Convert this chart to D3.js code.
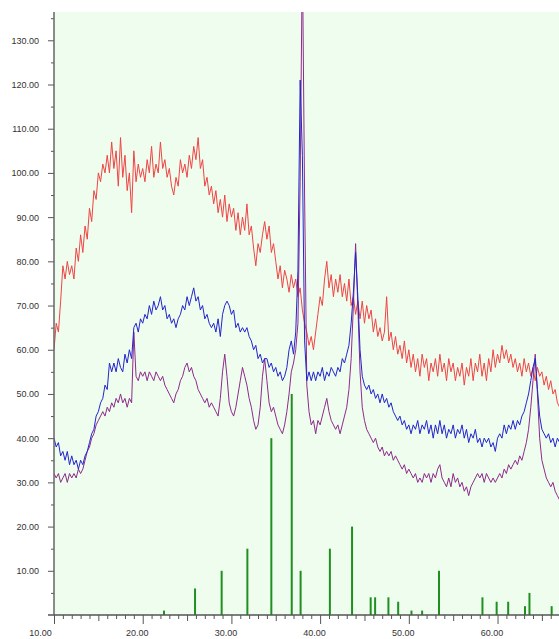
<!DOCTYPE html>
<meta charset="utf-8">
<style>
body { margin: 0; background: #fff; }
.axis text { font-family: "Liberation Sans", Arial, sans-serif; font-size: 9px; fill: #333; }
.axis line { stroke: #555; }
.axis path { display: none; }
</style>
<svg id="chart" width="559" height="639"></svg>
<script src="https://d3js.org/d3.v7.min.js"></script>
<script>

// diffraction pattern, sampled every 0.25 deg starting at 10 deg
var startAngle = 10, angleStep = 0.25;

var redCounts = [
  60,66,64,71,79,76,80,77,79,76, 83,80,86,82,88,85,92,89,96,94,
  100,98,102,100,104,100,107,101,105,97, 108,99,104,96,100,91,105,98,102,99,
  101,98,103,100,106,99,102,100,107,101, 103,99,101,97,95,99,97,103,100,102,
  99,104,101,106,103,108,101,103,97,99, 95,97,93,96,91,94,90,95,89,93,
  90,92,87,91,86,90,87,93,86,88, 83,79,84,82,86,89,85,88,82,84,
  80,76,79,74,78,76,73,77,74,76, 72,74,69,66,64,61,63,60,64,68,
  72,70,76,80,74,77,72,76,73,77, 72,75,71,76,70,72,68,71,67,71,
  66,70,67,69,64,67,63,65,62,64, 72,62,64,60,63,59,61,58,62,57,
  60,56,59,55,58,54,59,56,58,53, 57,55,58,54,59,55,57,53,58,55,
  57,53,56,54,57,52,56,54,58,53, 57,55,59,54,57,53,58,55,60,56,
  59,57,61,58,60,57,59,56,58,55, 57,54,58,55,57,54,56,53,56,54,
  55,52,54,51,53,50,51,48,47
];

var blueCounts = [
  40,38,39,36,37,35,37,34,36,34, 35,33,35,34,36,37,39,41,42,45,
  46,48,49,52,51,57,55,57,55,58, 56,55,59,57,60,58,65,66,64,67,
  66,68,67,70,68,71,69,70,72,69, 70,67,68,66,67,65,67,68,70,69,
  72,70,72,74,71,72,69,70,67,68, 66,65,66,64,67,63,68,70,71,70,
  68,69,65,66,64,65,64,65,63,62, 60,61,58,59,57,58,58,56,57,55,
  56,54,55,53,54,56,60,62,59,64, 78,121,104,62,53,55,53,55,53,55,
  54,56,53,55,54,56,55,54,56,55, 58,57,59,61,66,73,82,72,60,54,
  52,51,52,50,51,49,50,48,50,48, 49,47,48,46,45,44,45,43,44,42,
  43,41,43,42,44,41,43,42,44,41, 43,40,43,41,44,41,43,40,42,41,
  43,40,42,41,43,40,42,39,41,40, 42,39,40,38,40,39,40,38,39,37,
  40,41,40,43,41,43,42,44,42,44, 43,45,46,48,50,53,56,58,51,45,
  42,41,40,41,39,40,38,40,39
];

var purpleCounts = [
  32,31,32,30,31,32,30,32,31,32, 31,33,32,33,35,37,38,40,41,43,
  44,45,46,45,47,46,48,47,49,48, 50,48,49,47,49,48,64,54,53,55,
  54,55,53,55,54,53,55,54,53,54, 52,51,50,49,48,50,51,53,54,56,
  57,55,56,54,53,51,50,49,48,49, 47,48,47,46,45,49,55,59,54,48,
  46,45,47,50,53,56,54,52,49,47, 44,42,43,47,54,58,53,48,46,47,
  45,43,42,41,43,46,50,55,57,60, 66,98,150,95,52,46,43,44,41,44,
  43,45,47,49,46,44,43,42,43,41, 43,45,47,51,58,70,84,70,55,47,
  44,42,41,40,39,40,38,37,38,36, 37,36,37,35,36,35,34,33,34,32,
  33,32,31,32,30,31,30,32,31,32, 30,32,31,33,34,31,30,29,31,29,
  32,30,31,29,30,28,29,27,29,30, 31,32,31,32,30,32,31,30,31,30,
  31,32,31,33,32,34,33,34,35,34, 36,35,37,39,42,47,53,59,50,40,
  35,33,31,30,29,30,28,27,26
];

// reference sticks: position (deg) and relative height
var stickAngles = [22.4,25.9,28.9,31.8,34.5,36.8,37.8,41.1,43.6,45.7,46.2,47.7,48.8,50.3,51.5,53.4,58.3,59.9,61.2,63.1,63.6,66.1];
var stickHeights = [1,6,10,15,40,50,10,15,20,4,4,4,3,1,1,10,4,3,3,2,5,2];

var yTickValues = d3.range(10, 131, 10);
var xTickValues = d3.range(10, 61, 10);

var svg = d3.select("#chart"),
    plotLeft = 54, plotRight = 559, plotTop = 12, plotBottom = 615;

var x = d3.scaleLinear().domain([10, 66.93]).range([plotLeft, plotRight]);
var y = d3.scaleLinear().domain([0, 136.4]).range([plotBottom, plotTop]);

svg.append("rect")
  .attr("x", plotLeft).attr("y", plotTop)
  .attr("width", plotRight - plotLeft).attr("height", plotBottom - plotTop)
  .attr("fill", "#effdef");

svg.append("clipPath").attr("id", "plotClip")
  .append("rect")
  .attr("x", plotLeft).attr("y", plotTop)
  .attr("width", plotRight - plotLeft).attr("height", plotBottom - plotTop);

var plot = svg.append("g").attr("clip-path", "url(#plotClip)");

// sticks
plot.selectAll(".stick")
  .data(stickAngles)
  .enter().append("line")
    .attr("class", "stick")
    .attr("x1", function(d) { return x(d); })
    .attr("x2", function(d) { return x(d); })
    .attr("y1", y(0))
    .attr("y2", function(d, i) { return y(stickHeights[i]); })
    .attr("stroke", "#1f8f1f")
    .attr("stroke-width", 2);

function toPoints(arr) {
  return arr.map(function(v, i) { return [startAngle + i * angleStep, v]; });
}

var line = d3.line()
  .x(function(d) { return x(d[0]); })
  .y(function(d) { return y(d[1]); });

var series = [
  {vals: redCounts, color: "#ef4444"},
  {vals: purpleCounts, color: "#8e2a8c"},
  {vals: blueCounts, color: "#2424cc"}
];

series.forEach(function(s) {
  plot.append("path")
    .attr("d", line(toPoints(s.vals)))
    .attr("fill", "none")
    .attr("stroke", s.color)
    .attr("stroke-width", 1)
    .attr("stroke-linejoin", "round");
});

// y axis
svg.append("g")
  .attr("class", "axis")
  .attr("transform", "translate(" + plotLeft + ",0)")
  .call(d3.axisLeft(y).tickValues(yTickValues).tickFormat(d3.format(".2f")).tickSize(6).tickPadding(9));
svg.append("g")
  .attr("class", "axis")
  .attr("transform", "translate(" + plotLeft + ",0)")
  .call(d3.axisLeft(y).tickValues(d3.range(5, 136, 10)).tickFormat("").tickSize(3));

// x axis
var xMinor = d3.range(11, 67, 1).filter(function(d) { return d % 5 !== 0; });
var xMid = [15, 25, 35, 45, 55, 65];
svg.append("g")
  .attr("class", "axis")
  .attr("transform", "translate(0," + plotBottom + ")")
  .call(d3.axisBottom(x).tickValues(xMinor).tickFormat("").tickSize(4));
svg.append("g")
  .attr("class", "axis")
  .attr("transform", "translate(0," + plotBottom + ")")
  .call(d3.axisBottom(x).tickValues(xMid).tickFormat("").tickSize(6));
var xa = svg.append("g")
  .attr("class", "axis")
  .attr("transform", "translate(0," + plotBottom + ")")
  .call(d3.axisBottom(x).tickValues(xTickValues).tickFormat(d3.format(".2f")).tickSize(9).tickPadding(6));
xa.selectAll("text").attr("dx", function(d) { return d === 10 ? -14 : -6; });

// axis lines
svg.append("line")
  .attr("x1", plotLeft).attr("x2", plotLeft)
  .attr("y1", plotTop).attr("y2", plotBottom)
  .attr("stroke", "#666").attr("stroke-width", 1.5);
svg.append("line")
  .attr("x1", plotLeft - 6).attr("x2", plotRight)
  .attr("y1", plotBottom).attr("y2", plotBottom)
  .attr("stroke", "#555").attr("stroke-width", 1.5);

</script>
